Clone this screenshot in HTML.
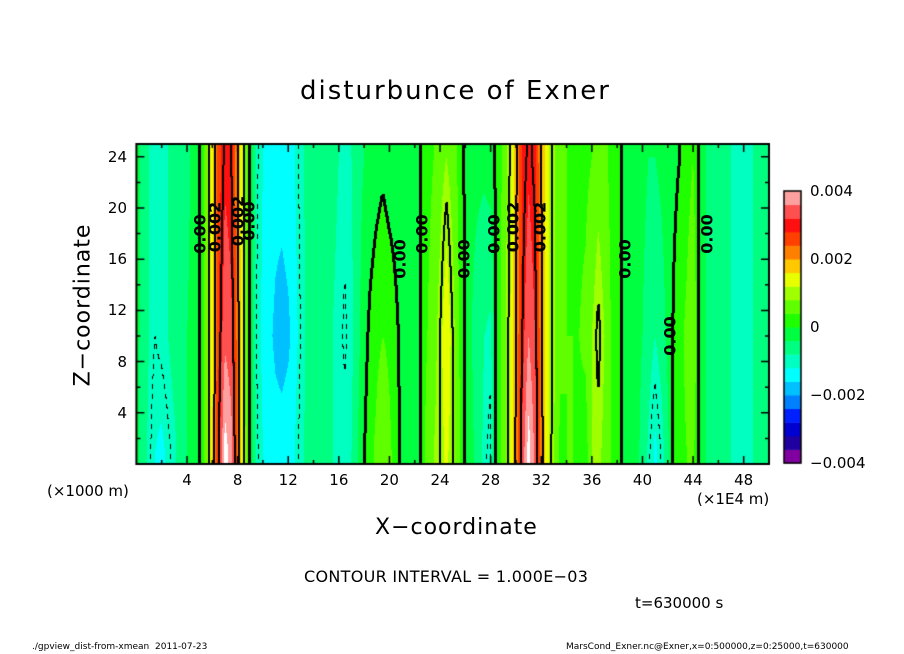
<!DOCTYPE html>
<html><head><meta charset="utf-8">
<style>
body{margin:0;background:#fff;width:904px;height:654px;position:relative;overflow:hidden;font-family:"DejaVu Sans","Liberation Sans",sans-serif;color:#000}
.t{position:absolute;white-space:nowrap}
.lab{position:absolute;font-size:16px;font-weight:bold;transform:translate(-50%,-50%) rotate(-90deg);white-space:nowrap;font-family:"DejaVu Sans",sans-serif}
</style></head><body>
<div class="t" style="left:300px;top:76px;font-size:26px;letter-spacing:2px">disturbunce of Exner</div>
<canvas id="cv" width="904" height="654" style="position:absolute;left:0;top:0"></canvas>
<div class="t" style="left:83px;top:305px;font-size:22px;letter-spacing:1px;transform:translate(-50%,-50%) rotate(-90deg)">Z−coordinate</div>
<div class="t" style="left:375px;top:515px;font-size:22px;letter-spacing:1px">X−coordinate</div>
<div class="t" style="left:47px;top:482px;font-size:15px">(×1000 m)</div>
<div class="t" style="left:697px;top:490px;font-size:15px">(×1E4 m)</div>
<div class="t" style="left:304px;top:567px;font-size:16px;letter-spacing:0.3px">CONTOUR INTERVAL = 1.000E−03</div>
<div class="t" style="left:635px;top:594px;font-size:15px">t=630000 s</div>
<div class="t" style="left:32px;top:642px;font-size:9px">./gpview_dist-from-xmean&nbsp;&nbsp;2011-07-23</div>
<div class="t" style="left:566px;top:642px;font-size:9px">MarsCond_Exner.nc@Exner,x=0:500000,z=0:25000,t=630000</div>
<div id="labels"></div>
<script>
// data in units of 1e-3, x at 0.5 steps (0..50), rows at z levels
const zLevels=[1,10,24];
const valTop=[-0.3,-0.5,-0.8,-0.9,-0.9,-0.8,-0.7,-0.6,-0.5,-0.3,-0.05,0.6,1.5,2.6,3.1,3.0,2.0,1.0,-0.05,-0.9,-1.2,-1.3,-1.4,-1.4,-1.3,-1.2,-0.9,-0.7,-0.6,-0.6,-0.6,-0.7,-0.8,-0.9,-0.8,-0.5,-0.4,-0.3,-0.2,-0.1,-0.2,-0.2,-0.2,-0.2,-0.1,-0.02,0.3,0.4,0.6,0.8,0.6,0.3,-0.05,-0.3,-0.3,-0.3,-0.2,0.1,0.5,1.0,1.9,2.8,3.1,2.9,2.0,1.3,0.9,0.5,0.4,0.3,0.3,0.3,0.4,0.6,0.5,0.3,0.2,-0.05,-0.2,-0.3,-0.3,-0.4,-0.4,-0.3,-0.2,-0.1,0.0,0.2,0.4,-0.05,-0.4,-0.5,-0.6,-0.7,-0.8,-0.9,-1.0,-0.9,-0.7,-0.5,-0.4];
const valMid=[-0.3,-0.5,-0.8,-1.0,-0.9,-0.8,-0.6,-0.5,-0.4,-0.3,-0.05,0.6,1.5,2.8,3.5,3.3,2.2,1.0,-0.05,-1.0,-1.3,-1.5,-1.7,-1.8,-1.7,-1.4,-1.0,-0.7,-0.6,-0.6,-0.7,-0.8,-0.9,-1.05,-0.9,-0.5,-0.2,0.1,0.3,0.4,0.3,0.1,-0.1,-0.1,-0.1,-0.02,0.4,0.6,1.0,1.6,1.0,0.4,-0.05,-0.4,-0.6,-0.8,-0.9,0.1,0.6,1.1,2.0,3.0,3.6,3.2,2.1,1.3,0.9,0.5,0.4,0.4,0.4,0.5,0.8,1.1,0.8,0.4,0.2,-0.05,-0.2,-0.3,-0.4,-0.6,-0.8,-0.6,-0.3,0.05,0.3,0.5,0.8,-0.05,-0.4,-0.5,-0.6,-0.7,-0.8,-0.9,-1.0,-0.9,-0.7,-0.5,-0.4];
const valBot=[-0.3,-0.6,-0.9,-1.2,-1.3,-1.1,-0.9,-0.6,-0.4,-0.3,-0.05,0.6,1.6,2.9,4.2,3.8,2.3,1.1,-0.05,-0.9,-1.2,-1.3,-1.4,-1.4,-1.3,-1.2,-0.9,-0.7,-0.6,-0.6,-0.7,-0.8,-0.9,-0.9,-0.8,-0.4,-0.05,0.3,0.5,0.8,0.5,0.2,-0.1,-0.1,-0.05,-0.02,0.7,0.8,1.0,1.3,1.0,0.5,-0.05,-0.3,-0.6,-0.9,-1.1,0.1,0.6,1.1,2.1,3.3,4.2,3.5,2.2,1.3,0.8,0.3,0.4,0.4,0.3,0.2,0.8,0.9,0.7,0.4,0.2,-0.05,-0.2,-0.3,-0.5,-0.9,-1.3,-1.0,-0.5,0.1,0.3,0.4,0.5,-0.05,-0.4,-0.5,-0.6,-0.7,-0.8,-0.9,-1.0,-0.9,-0.7,-0.5,-0.4];
const xTicks=[4,8,12,16,20,24,28,32,36,40,44,48];
const yTicks=[4,8,12,16,20,24];
const cbLabels=["0.004","0.002","0","−0.002","−0.004"];
const cbValues=[4,2,0,-2,-4];
const palette=["#8000a0","#2000a0","#0000d0","#0020ff","#0080ff","#00c0ff","#00ffff","#00ffc0","#00ff80","#00ff40","#20ff00","#60ff00","#a0ff00","#e8ff00","#ffc800","#ff8000","#ff4000","#ff1010","#ff5050","#ffa0a0"];
const labelPos=[[5,18,"0.00"],[6.2,18.5,"0.002"],[8,19,"0.002"],[8.9,19,"0.00"],[20.8,16,"0.00"],[22.6,18,"0.00"],[25.9,16,"0.00"],[28.3,18,"0.00"],[29.8,18.5,"0.002"],[31.9,18.5,"0.002"],[38.6,16,"0.00"],[42.2,10,"0.00"],[45.1,18,"0.00"]];

const X0=136.4,X1=769,Y0=464,Y1=144;
const xs=u=>X0+(u-0)*(X1-X0)/50;
const ys=z=>Y0-(z-0)*(Y0-Y1)/25;
function prof(arr,u){const f=u*2;let i=Math.floor(f);if(i>=arr.length-1)return arr[arr.length-1];if(i<0)return arr[0];const t=f-i;return arr[i]*(1-t)+arr[i+1]*t;}
function field(u,z){
  const b=prof(valBot,u),m=prof(valMid,u),t=prof(valTop,u);
  if(z<=zLevels[0])return b;
  if(z<=zLevels[1]){const s=(z-zLevels[0])/(zLevels[1]-zLevels[0]);return b*(1-s)+m*s;}
  if(z<=zLevels[2]){const s=(z-zLevels[1])/(zLevels[2]-zLevels[1]);return m*(1-s)+t*s;}
  return t;
}
function hex(c){return [parseInt(c.substr(1,2),16),parseInt(c.substr(3,2),16),parseInt(c.substr(5,2),16)];}
const pal=palette.map(hex);
function bin(v){let i=Math.floor((v+4)/0.4);return Math.max(0,Math.min(19,i));}
const cv=document.getElementById('cv');const ctx=cv.getContext('2d');
const px0=Math.round(X0),px1=Math.round(X1),py0=Math.round(Y1),py1=Math.round(Y0);
const W=px1-px0,H=py1-py0;
const img=ctx.createImageData(W,H);
const F=[];
for(let j=0;j<H;j++){F[j]=[];for(let i=0;i<W;i++){
  const u=(px0+i+0.5-X0)*50/(X1-X0),z=(Y0-(py0+j+0.5))*25/(Y0-Y1);
  const v=field(u,z);F[j][i]=v;
  let c=v>=4?[255,255,255]:pal[bin(v)];const k=(j*W+i)*4;img.data[k]=c[0];img.data[k+1]=c[1];img.data[k+2]=c[2];img.data[k+3]=255;}}
// contours
const levels=[-1,0,1,2,3];
function setB(i,j){if(i<0||j<0||i>=W||j>=H)return;const k=(j*W+i)*4;img.data[k]=0;img.data[k+1]=0;img.data[k+2]=0;}
for(let j=0;j<H-1;j++)for(let i=0;i<W-1;i++){
  const a=F[j][i],r=F[j][i+1],d=F[j+1][i];
  for(const L of levels){
    if((a<L)!==(r<L)||(a<L)!==(d<L)){
      if(L===-1){if(Math.floor(j/5)%2)continue;setB(i,j);}
      else if(L===0){setB(i-1,j);setB(i,j);setB(i+1,j);}
      else {setB(i,j);setB(i+1,j);}
    }
  }
}
ctx.putImageData(img,px0,py0);
// frame
ctx.strokeStyle='#000';ctx.lineWidth=2;ctx.strokeRect(X0,Y1,X1-X0,Y0-Y1);
ctx.lineWidth=1.5;
for(let u=2;u<50;u+=2){const x=xs(u),L=(u%4===0)?8:4;ctx.beginPath();ctx.moveTo(x,Y0);ctx.lineTo(x,Y0-L);ctx.moveTo(x,Y1);ctx.lineTo(x,Y1+L);ctx.stroke();}
for(let z=2;z<25;z+=2){const y=ys(z),L=(z%4===0)?8:4;ctx.beginPath();ctx.moveTo(X0,y);ctx.lineTo(X0+L,y);ctx.moveTo(X1,y);ctx.lineTo(X1-L,y);ctx.stroke();}
// colorbar
const CB_X=784,CB_W=17,CB_T=191,CB_B=463;const bh=(CB_B-CB_T)/20;
for(let k=0;k<20;k++){ctx.fillStyle=palette[k];ctx.fillRect(CB_X,CB_B-(k+1)*bh,CB_W,bh+0.5);}
ctx.lineWidth=1.5;ctx.strokeRect(CB_X,CB_T,CB_W,CB_B-CB_T);
const cby=v=>CB_B-(v+4)/8*(CB_B-CB_T);
const L=document.getElementById('labels');
function addText(cls,x,y,txt,name,style){const d=document.createElement('div');d.className=cls;d.textContent=txt;d.style.cssText=style;d.style.left=x+'px';d.style.top=y+'px';


L.appendChild(d);}
xTicks.forEach(u=>addText('t',xs(u),471,String(u),'x-tick-label','font-size:15px;transform:translateX(-50%)'));
yTicks.forEach(z=>addText('t',127,ys(z),String(z),'y-tick-label','font-size:15px;transform:translate(-100%,-50%)'));
cbValues.forEach((v,k)=>addText('t',810,cby(v),cbLabels[k],'colorbar-label','font-size:15px;transform:translateY(-50%)'));
labelPos.forEach(p=>addText('lab',xs(p[0]),ys(p[1]),p[2],'contour-label',''));
</script>
</body></html>
